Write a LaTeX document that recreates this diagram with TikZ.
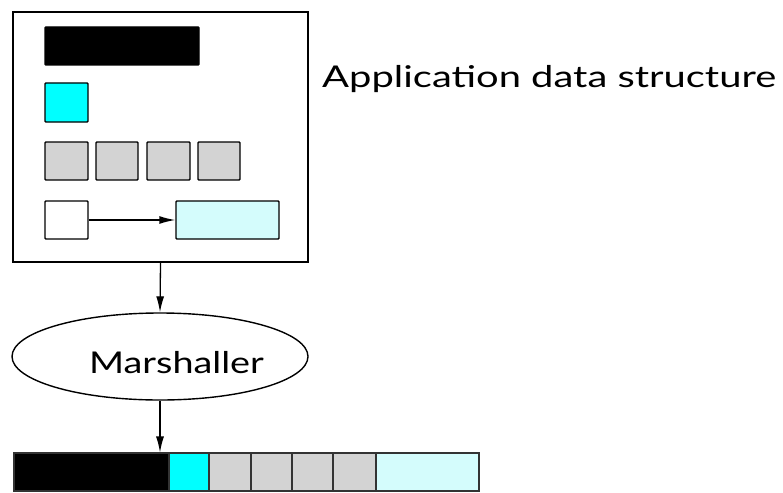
\documentclass[tikz,border=0pt]{standalone}
\usepackage{fontspec}
\setmainfont{Lato}
\usepackage{tikz}
\usetikzlibrary{shapes.geometric,arrows.meta}
\definecolor{fieldcyan}{RGB}{0,255,255}
\definecolor{lightcyan}{RGB}{212,252,252}
\definecolor{cellgray}{RGB}{211,211,211}

\begin{document}
\begin{tikzpicture}[x=1pt,y=-1pt,
        >={Latex[length=16pt,width=8pt]},
        field/.style={rectangle, draw=black, line width=1.4pt, inner sep=0pt, rounded corners=0.8pt},
        slot/.style={rectangle, draw=black!80, line width=1.1pt, inner sep=0pt, minimum height=38pt},
        caption/.style={inner sep=0pt, font=\fontsize{30}{36}\selectfont},
        ]
        \useasboundingbox (0,0) rectangle (783,492);

        % application data structure
        \node (app) at (160.5,137) [rectangle, draw=black, line width=2pt, minimum width=295pt, minimum height=250pt] {};
        \node (fblack) at (122,46) [field, fill=black, minimum width=154pt, minimum height=38pt] {};
        \node (fcyan) at (66.5,102.5) [field, fill=fieldcyan, minimum width=43pt, minimum height=39pt] {};
        \node (fgray1) at (66.5,161) [field, fill=cellgray, minimum width=43pt, minimum height=38pt] {};
        \node (fgray2) at (117,161) [field, fill=cellgray, minimum width=42pt, minimum height=38pt] {};
        \node (fgray3) at (168.5,161) [field, fill=cellgray, minimum width=43pt, minimum height=38pt] {};
        \node (fgray4) at (219,161) [field, fill=cellgray, minimum width=42pt, minimum height=38pt] {};
        \node (fptr) at (66.5,220) [field, fill=white, minimum width=43pt, minimum height=38pt] {};
        \node (ftarget) at (227.5,220) [field, fill=lightcyan, minimum width=103pt, minimum height=38pt] {};
        \draw[->, line width=1.4pt] (fptr.east) -- (ftarget.west);

        \node (title) at (322,88) [caption, anchor=base west] {\scalebox{1.33}[1]{Application data structure}};

        % marshaller
        \node (marsh) at (160,356.5) [ellipse, draw=black, line width=1.4pt, minimum width=296pt, minimum height=87pt, inner sep=0pt] {};
        \node (marshlabel) at (176.5,373) [caption, anchor=base] {\scalebox{1.26}[1]{Marshaller}};
        \draw[->, line width=1.3pt] (app.south) -- (marsh.north);

        % marshalled message
        \node (sblack) at (91.5,472) [slot, fill=black, minimum width=155pt] {};
        \node (scyan) at (189,472) [slot, fill=fieldcyan, minimum width=40pt] {};
        \node (sgray1) at (230,472) [slot, fill=cellgray, minimum width=42pt] {};
        \node (sgray2) at (271.5,472) [slot, fill=cellgray, minimum width=41pt] {};
        \node (sgray3) at (312.5,472) [slot, fill=cellgray, minimum width=41pt] {};
        \node (sgray4) at (354.5,472) [slot, fill=cellgray, minimum width=43pt] {};
        \node (starget) at (427.5,472) [slot, fill=lightcyan, minimum width=103pt] {};
        \draw[->, line width=1.3pt] (marsh.south) -- (marsh.south |- sblack.north);

    \end{tikzpicture}
\end{document}
